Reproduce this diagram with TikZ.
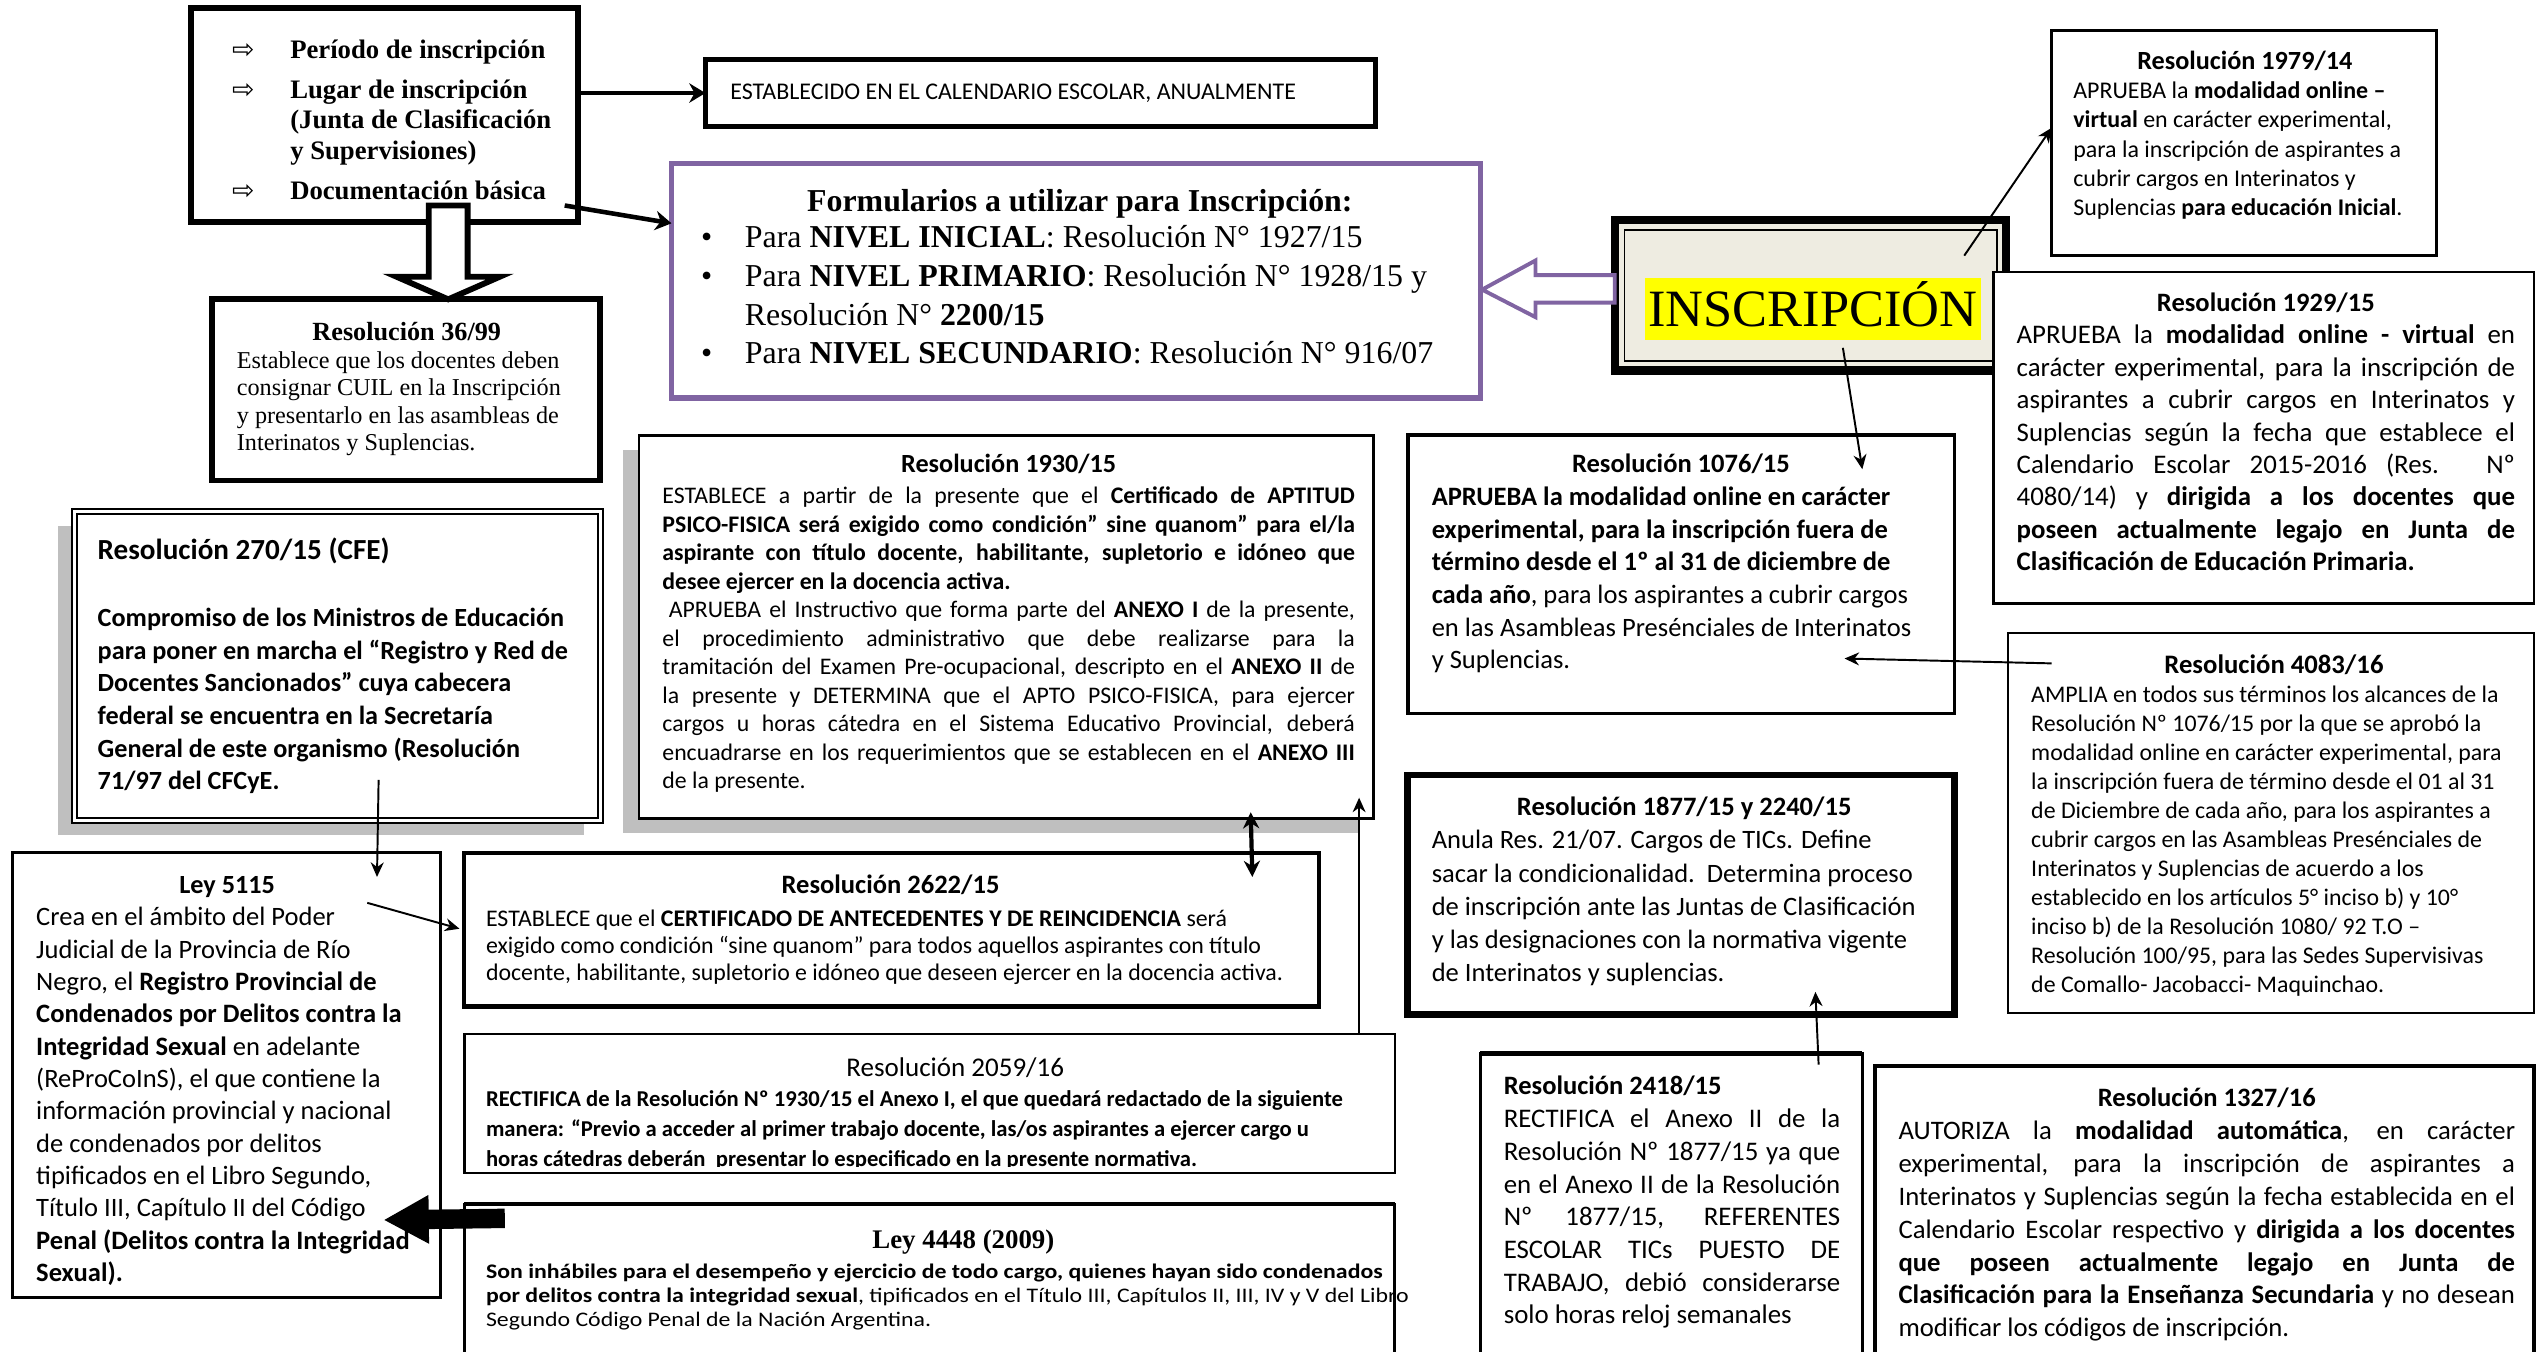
\documentclass[tikz,border=0pt]{standalone}
\usepackage{fontspec}
\setmainfont{Carlito}
\newfontfamily\timesfont{Liberation Serif}
\newfontfamily\symbolfont{DejaVu Sans}
\newfontfamily\widefont{Carlito}[FakeStretch=1.15]
\usepackage{tikz}
\usetikzlibrary{arrows.meta, calc, fit, shadows}
\definecolor{formPurple}{RGB}{128,100,162}
\definecolor{inscBeige}{RGB}{238,236,225}
\definecolor{markYellow}{RGB}{255,255,0}
\definecolor{shadowGray}{RGB}{191,191,191}
\newcommand{\fsz}[2]{\fontsize{#1}{#2}\selectfont}
\newcommand{\ctitle}[3]{{\centering\bfseries\fsz{#1}{#2}\strut #3\par}}
\newcommand{\topicarrow}{\makebox[18pt][l]{\symbolfont\mdseries ⇨}}
\newcommand{\formbullet}{\makebox[13.5pt][l]{•}}

\begin{document}
\begin{tikzpicture}[x=0.5pt, y=-0.5pt,
    frame/.style={draw=black, fill=white, inner sep=0pt, outer sep=0pt},
    grayshadow/.style={drop shadow={shadow xshift=-5pt, shadow yshift=-4.5pt, opacity=1, fill=shadowGray}},
    txt/.style={inner sep=0pt, anchor=north west, align=flush left},
    jtxt/.style={txt, align=justify},
    arrow/.style={-{Stealth[length=5pt, width=6pt]}, line width=1.4pt},
    thinarrow/.style={-{Stealth[length=4.5pt, width=4pt]}, line width=0.6pt},
    hollow/.style={fill=white, line width=1.8pt, line join=miter}
]
\useasboundingbox (0,0) rectangle (1568,835);
\clip (0,0) rectangle (1568,835);

% Frames
\node[frame, line width=1.8pt, fit={(118,5) (357,137)}] (topics) {};
\node[frame, line width=1.5pt, fit={(436,37) (850,78)}] (establecido) {};
\node[frame, draw=formPurple, line width=1.6pt, fit={(415,101) (915,246)}] (formularios) {};
\node[frame, line width=1.8pt, fit={(131,185) (371,297)}] (res3699) {};
\node[frame, fill=inscBeige, line width=2.5pt, fit={(998,136) (1240,229)}] (inscripcion) {};
\draw[line width=0.6pt] ($(inscripcion.north west)+(6,6)$) rectangle ($(inscripcion.south east)+(-6,-6)$);
\node[frame, line width=0.8pt, fit={(1268,19) (1506,158)}] (res1979) {};
\node[frame, line width=0.8pt, fit={(1232,168) (1566,373)}] (res1929) {};
\node[frame, line width=1.2pt, fit={(870,269) (1208,441)}] (res1076) {};
\node[frame, line width=0.7pt, fit={(1241,391) (1566,626)}] (res4083) {};
\node[frame, line width=2pt, fit={(870,479) (1208,627)}] (res1877) {};
\node[frame, line width=1pt, fit={(915,651) (1151,860)}] (res2418) {};
\draw[line width=1.6pt] (res2418.north west) -- (res2418.north east);
\node[frame, line width=1.2pt, fit={(1159,659) (1566,860)}] (res1327) {};
\node[frame, line width=0.8pt, grayshadow, fit={(395,269) (849,506)}] (res1930) {};
\node[frame, line width=0.6pt, double=white, double distance=1.1pt, grayshadow, fit={(46,316) (371,507)}] (res270) {};
\node[frame, line width=0.9pt, fit={(8,527) (272,802)}] (ley5115) {};
\node[frame, line width=1.3pt, fit={(287,527) (815,622)}] (res2622) {};
\node[frame, line width=0.7pt, fit={(287,639) (862,725)}] (res2059) {};
\node[frame, line width=0.8pt, fit={(287,744) (862,860)}] (ley4448) {};
\draw[line width=1.4pt] (ley4448.north west) -- (ley4448.north east);

% Texts
\node[txt, font={\timesfont\bfseries\fsz{8.25}{9.5}}] (topicst) at ($(topics.north west)+(25,17.5)$)
  {\strut\topicarrow Período de inscripción\\[2.75pt]
   \topicarrow Lugar de inscripción\\
   \hspace*{18pt}(Junta de Clasificación\\
   \hspace*{18pt}y Supervisiones)\\[2.75pt]
   \topicarrow Documentación básica};
\node[anchor=base west, inner sep=0pt, font={\fsz{7.4}{9}}] (establecidot) at ($(establecido.north west)+(15,24.2)$)
  {ESTABLECIDO EN EL CALENDARIO ESCOLAR, ANUALMENTE};
\node[txt, text width=234pt, font={\timesfont\fsz{9.85}{12}}] (formulariost) at ($(formularios.north west)+(18,12.7)$)
  {\ctitle{9.85}{12}{Formularios a utilizar para Inscripción:}\vspace{-1pt}
   \formbullet Para \textbf{NIVEL INICIAL}: Resolución N° 1927/15\\
   \formbullet Para \textbf{NIVEL PRIMARIO}: Resolución N° 1928/15 y\\
   \hspace*{13.5pt}Resolución N° \textbf{2200/15}\\
   \formbullet Para \textbf{NIVEL SECUNDARIO}: Resolución N° 916/07};
\node[txt, text width=105pt, font={\timesfont\fsz{7.48}{8.5}}] (res3699t) at ($(res3699.north west)+(15,13.4)$)
  {\ctitle{8.1}{8.5}{Resolución 36/99}
   Establece que los docentes deben\\
   consignar CUIL en la Inscripción\\
   y presentarlo en las asambleas de\\
   Interinatos y Suplencias.};
\node[fill=markYellow, inner xsep=1pt, inner ysep=0pt, text height=15pt, text depth=4pt, anchor=base,
  font={\timesfont\fsz{16.2}{18}}] (insct) at ($(inscripcion.north west)+(122.5,66)$) {INSCRIPCIÓN};
\node[txt, text width=106pt, font={\fsz{7.4}{9}}] (res1979t) at ($(res1979.north west)+(13,11.1)$)
  {\ctitle{8.1}{9}{Resolución 1979/14}
   APRUEBA la \textbf{modalidad online –}\\
   \textbf{virtual} en carácter experimental,\\
   para la inscripción de aspirantes a\\
   cubrir cargos en Interinatos y\\
   Suplencias \textbf{para educación Inicial}.};
\node[jtxt, text width=154pt, font={\fsz{8.3}{10}}] (res1929t) at ($(res1929.north west)+(14,10.2)$)
  {\ctitle{8.2}{10}{Resolución 1929/15}
   APRUEBA la \textbf{modalidad online - virtual} en\linebreak
   carácter experimental, para la inscripción de\linebreak
   aspirantes a cubrir cargos en Interinatos y\linebreak
   Suplencias según la fecha que establece el\linebreak
   Calendario Escolar 2015-2016 (Res. Nº\linebreak
   4080/14) y \textbf{dirigida a los docentes que}\linebreak
   \textbf{poseen actualmente legajo en Junta de}\linebreak
   \textbf{Clasificación de Educación Primaria.}};
\node[txt, text width=154pt, font={\fsz{8.2}{10.1}}] (res1076t) at ($(res1076.north west)+(14.5,8.6)$)
  {\ctitle{8.2}{10.1}{Resolución 1076/15}
   \textbf{APRUEBA la modalidad online en carácter}\\
   \textbf{experimental, para la inscripción fuera de}\\
   \textbf{término desde el 1º al 31 de diciembre de}\\
   \textbf{cada año}, para los aspirantes a cubrir cargos\\
   en las Asambleas Presénciales de Interinatos\\
   y Suplencias.};
\node[txt, text width=150pt, font={\fsz{7.37}{8.95}}] (res4083t) at ($(res4083.north west)+(14,12.3)$)
  {\ctitle{8.25}{8.95}{Resolución 4083/16}
   AMPLIA en todos sus términos los alcances de la\\
   Resolución Nº 1076/15 por la que se aprobó la\\
   modalidad online en carácter experimental, para\\
   la inscripción fuera de término desde el 01 al 31\\
   de Diciembre de cada año, para los aspirantes a\\
   cubrir cargos en las Asambleas Presénciales de\\
   Interinatos y Suplencias de acuerdo a los\\
   establecido en los artículos 5° inciso b) y 10°\\
   inciso b) de la Resolución 1080/ 92 T.O –\\
   Resolución 100/95, para las Sedes Supervisivas\\
   de Comallo- Jacobacci- Maquinchao.};
\node[txt, text width=156pt, font={\fsz{8.2}{10.25}}] (res1877t) at ($(res1877.north west)+(14.5,10.4)$)
  {\ctitle{8.2}{10.25}{Resolución 1877/15 y 2240/15}
   Anula Res. 21/07. Cargos de TICs. Define\\
   sacar la condicionalidad.\ \ Determina proceso\\
   de inscripción ante las Juntas de Clasificación\\
   y las designaciones con la normativa vigente\\
   de Interinatos y suplencias.};
\node[jtxt, text width=104pt, font={\fsz{8.3}{10.1}}] (res2418t) at ($(res2418.north west)+(14,11.2)$)
  {{\bfseries\fsz{8.2}{10.1}\strut Resolución 2418/15\par}
   RECTIFICA el Anexo II de la\linebreak
   Resolución Nº 1877/15 ya que\linebreak
   en el Anexo II de la Resolución\linebreak
   Nº 1877/15, REFERENTES\linebreak
   ESCOLAR TICs PUESTO DE\linebreak
   TRABAJO, debió considerarse\linebreak
   solo horas reloj semanales};
\node[jtxt, text width=190.5pt, font={\fsz{8.25}{10.15}}] (res1327t) at ($(res1327.north west)+(14,10.5)$)
  {\ctitle{8.2}{10.15}{Resolución 1327/16}
   AUTORIZA la \textbf{modalidad automática}, en carácter\linebreak
   experimental, para la inscripción de aspirantes a\linebreak
   Interinatos y Suplencias según la fecha establecida en el\linebreak
   Calendario Escolar respectivo y \textbf{dirigida a los docentes}\linebreak
   \textbf{que poseen actualmente legajo en Junta de}\linebreak
   \textbf{Clasificación para la Enseñanza Secundaria} y no desean\linebreak
   modificar los códigos de inscripción.};
\node[jtxt, text width=214pt, font={\fsz{7.35}{8.8}}] (res1930t) at ($(res1930.north west)+(14,10.4)$)
  {\ctitle{8.1}{8.8}{Resolución 1930/15}\vspace{0.8pt}
   ESTABLECE a partir de la presente que el \textbf{Certificado de APTITUD}\linebreak
   \textbf{PSICO-FISICA será exigido como condición” sine quanom” para el/la}\linebreak
   \textbf{aspirante con título docente, habilitante, supletorio e idóneo que}\linebreak
   \textbf{desee ejercer en la docencia activa.}\\
   \hspace*{2pt}APRUEBA el Instructivo que forma parte del \textbf{ANEXO I} de la presente,\linebreak
   el procedimiento administrativo que debe realizarse para la\linebreak
   tramitación del Examen Pre-ocupacional, descripto en el \textbf{ANEXO II} de\linebreak
   la presente y DETERMINA que el APTO PSICO-FISICA, para ejercer\linebreak
   cargos u horas cátedra en el Sistema Educativo Provincial, deberá\linebreak
   encuadrarse en los requerimientos que se establecen en el \textbf{ANEXO III}\linebreak
   de la presente.};
\node[txt, text width=156pt, font={\bfseries\fsz{8.1}{10.1}}] (res270t) at ($(res270.north west)+(14,15.2)$)
  {{\fsz{9}{10.1}\strut Resolución 270/15 (CFE)\par}\vspace{10.6pt}
   Compromiso de los Ministros de Educación\\
   para poner en marcha el “Registro y Red de\\
   Docentes Sancionados” cuya cabecera\\
   federal se encuentra en la Secretaría\\
   General de este organismo (Resolución\\
   71/97 del CFCyE.};
\node[txt, text width=118pt, font={\fsz{8.2}{10}}] (ley5115t) at ($(ley5115.north west)+(14,10.7)$)
  {\ctitle{8.1}{10}{Ley 5115}
   Crea en el ámbito del Poder\\
   Judicial de la Provincia de Río\\
   Negro, el \textbf{Registro Provincial de}\\
   \textbf{Condenados por Delitos contra la}\\
   \textbf{Integridad Sexual} en adelante\\
   (ReProCoInS), el que contiene la\\
   información provincial y nacional\\
   de condenados por delitos\\
   tipificados en el Libro Segundo,\\
   Título III, Capítulo II del Código\\
   \textbf{Penal (Delitos contra la Integridad}\\
   \textbf{Sexual).}};
\node[txt, text width=250pt, font={\fsz{7.37}{8.3}}] (res2622t) at ($(res2622.north west)+(13,13.1)$)
  {\ctitle{8.2}{8.3}{Resolución 2622/15}\vspace{1.9pt}
   ESTABLECE que el \textbf{CERTIFICADO DE ANTECEDENTES Y DE REINCIDENCIA} será\\
   exigido como condición “sine quanom” para todos aquellos aspirantes con título\\
   docente, habilitante, supletorio e idóneo que deseen ejercer en la docencia activa.};
\begin{scope}
\clip (res2059.north west) rectangle ($(res2059.south east)+(0,-4)$);
\node[txt, text width=290pt, font={\bfseries\fsz{7}{9.25}}] (res2059t) at ($(res2059.north west)+(13,12.85)$)
  {{\centering\mdseries\fsz{8.35}{9.25}\strut Resolución 2059/16\par}
   RECTIFICA de la Resolución Nº 1930/15 el Anexo I, el que quedará redactado de la siguiente\\
   manera: “Previo a acceder al primer trabajo docente, las/os aspirantes a ejercer cargo u\\
   horas cátedras deberán\ \ presentar lo especificado en la presente normativa.};
\end{scope}
\node[txt, text width=295pt, font={\widefont\fsz{6.4}{7.5}}] (ley4448t) at ($(ley4448.north west)+(13,16)$)
  {{\centering\timesfont\bfseries\fsz{8.3}{7.5}\strut Ley 4448 (2009)\par}\vspace{1.5pt}
   \textbf{Son inhábiles para el desempeño y ejercicio de todo cargo, quienes hayan sido condenados}\\
   \textbf{por delitos contra la integridad sexual}, tipificados en el Título III, Capítulos II, III, IV y V del Libro\\
   Segundo Código Penal de la Nación Argentina.};

% Connectors
\draw[arrow] (topics.east |- establecido.west) -- (establecido.west);
\draw[arrow] ($(topics.south east)+(-8,-10)$) -- ($(formularios.north west)+(0,37)$);
\coordinate (dtip) at ($(res3699.north)+(26,0)$);
\draw[hollow] (dtip) -- ++(-32,-14) -- ++(20,0) -- ++(0,-44) -- ++(24,0) -- ++(0,44) -- ++(20,0) -- cycle;
\coordinate (ptip) at ($(formularios.east)+(1,5.5)$);
\draw[hollow, draw=formPurple, line width=1.2pt] (ptip) -- ++(33,-18) -- ++(0,9) -- ++(49,0) -- ++(0,17) -- ++(-49,0) -- ++(0,9) -- cycle;
\draw[thinarrow] ($(inscripcion.north east)+(-26,22)$) -- ($(res1979.north west)+(0,60)$);
\draw[thinarrow] ($(inscripcion.south west)+(141,-14)$) -- ($(res1076.north west)+(281,21)$);
\draw[thinarrow] ($(res4083.north west)+(27,19)$) -- ($(res1076.north west)+(270,138)$);
\draw[thinarrow] ($(res2418.north west)+(209,7)$) -- ($(res1877.south west)+(252,-14)$);
\draw[thinarrow] ($(res270.south west)+(188,-25)$) -- ($(ley5115.north west)+(225,15)$);
\draw[thinarrow] ($(ley5115.north west)+(219,31)$) -- ($(res2622.north west)+(-3,47)$);
\draw[{Stealth[length=5pt, width=5pt]}-{Stealth[length=5pt, width=5pt]}, line width=1.3pt]
  ($(res1930.south west)+(378,-4)$) -- ($(res2622.north west)+(487,15)$);
\draw[thinarrow] ($(res2059.north west)+(553,0)$) -- ($(res1930.south west)+(445,-13)$);
\draw[-{Triangle[length=14pt, width=14pt]}, line width=6pt]
  ($(ley4448.north west)+(25,9)$) -- ($(ley5115.south east)+(-35,-48)$);

\end{tikzpicture}
\end{document}
